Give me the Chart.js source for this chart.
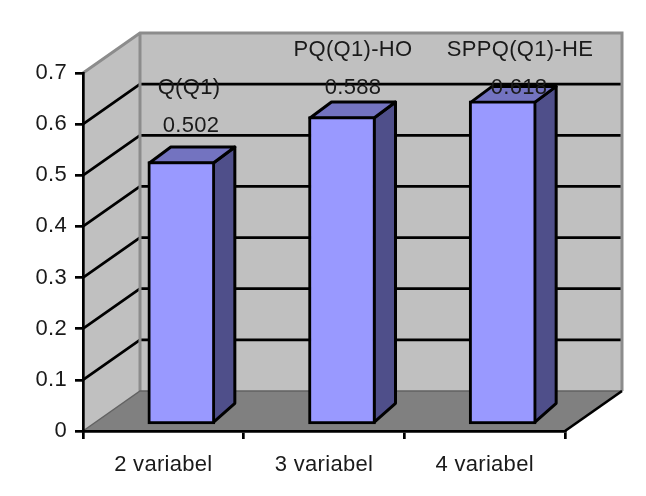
<!DOCTYPE html>
<html>
<head>
<meta charset="utf-8">
<title>Variabel</title>
<script src="https://cdn.jsdelivr.net/npm/chart.js@4"></script>
<style>
    html, body { margin: 0; padding: 0; background: #fff; }
    canvas { display: block; }
</style>
</head>
<body>
<canvas id="chart" width="646" height="496"></canvas>
<script>
const categories = ['2 variabel', '3 variabel', '4 variabel'];
const seriesValues = [0.502, 0.588, 0.618];
const seriesNames = ['Q(Q1)', 'PQ(Q1)-HO', 'SPPQ(Q1)-HE'];
const yTickLabels = ['0', '0.1', '0.2', '0.3', '0.4', '0.5', '0.6', '0.7'];

const FONT = '"Liberation Sans", Arial, sans-serif';
const FONT_SIZE = 22;
const TEXT = '#1a1a1a';
const LINE = 2.7;

// box depth of the walls, and of the columns standing on the floor
const WALL_DX = 57, WALL_DY = 40;
const BAR_DX = 21.5, BAR_TOP_DY = 16, BAR_BASE_DY = 19;
const BAR_SHIFT = 18; // columns sit back from the front edge of the floor

// where the two text rows of each column go (centre x, centre y)
const valuePos = [[191, 126], [353, 88], [519, 88]];
const namePos = [[189, 88], [353, 50], [520, 50]];

function poly(ctx, pts) {
    ctx.beginPath();
    pts.forEach((p, i) => i ? ctx.lineTo(p[0], p[1]) : ctx.moveTo(p[0], p[1]));
    ctx.closePath();
}

const wallsPlugin = {
    id: 'walls',
    beforeDraw(chart) {
        const ctx = chart.ctx, y = chart.scales.y, a = chart.chartArea;
        const y0 = y.getPixelForValue(0), yMax = y.getPixelForValue(0.7);
        const l = a.left, r = a.right;
        ctx.letterSpacing = '0.3px'; // stays on for the axis labels too
        ctx.save();

        // side wall
        poly(ctx, [[l, yMax], [l + WALL_DX, yMax - WALL_DY], [l + WALL_DX, y0 - WALL_DY], [l, y0]]);
        ctx.fillStyle = '#c0c0c0';
        ctx.fill();
        // back wall
        poly(ctx, [[l + WALL_DX, yMax - WALL_DY], [r + WALL_DX, yMax - WALL_DY], [r + WALL_DX, y0 - WALL_DY], [l + WALL_DX, y0 - WALL_DY]]);
        ctx.fill();
        // floor
        poly(ctx, [[l, y0], [r, y0], [r + WALL_DX, y0 - WALL_DY], [l + WALL_DX, y0 - WALL_DY]]);
        ctx.fillStyle = '#808080';
        ctx.fill();

        // gridlines run over the side wall and across the back wall
        ctx.strokeStyle = '#000';
        ctx.lineWidth = LINE;
        y.ticks.forEach(t => {
            if (t.value <= 0 || t.value >= 0.7) return;
            const py = y.getPixelForValue(t.value);
            ctx.beginPath();
            ctx.moveTo(l, py);
            ctx.lineTo(l + WALL_DX, py - WALL_DY);
            ctx.lineTo(r + WALL_DX, py - WALL_DY);
            ctx.stroke();
        });

        // wall edges
        ctx.strokeStyle = '#8c8c8c';
        ctx.lineWidth = 3;
        ctx.beginPath();
        ctx.moveTo(l, yMax);
        ctx.lineTo(l + WALL_DX, yMax - WALL_DY);
        ctx.lineTo(r + WALL_DX, yMax - WALL_DY);
        ctx.lineTo(r + WALL_DX, y0 - WALL_DY);
        ctx.moveTo(l + WALL_DX, yMax - WALL_DY);
        ctx.lineTo(l + WALL_DX, y0 - WALL_DY);
        ctx.stroke();
        ctx.strokeStyle = '#626262';
        ctx.lineWidth = 1.5;
        ctx.beginPath();
        ctx.moveTo(l, y0);
        ctx.lineTo(l + WALL_DX, y0 - WALL_DY);
        ctx.lineTo(r + WALL_DX, y0 - WALL_DY);
        ctx.stroke();
        // right floor edge
        ctx.strokeStyle = '#000';
        ctx.lineWidth = LINE;
        ctx.beginPath();
        ctx.moveTo(r, y0);
        ctx.lineTo(r + WALL_DX, y0 - WALL_DY);
        ctx.stroke();
        ctx.restore();
    },
    beforeDatasetsDraw(chart) {
        const ctx = chart.ctx;
        ctx.save();
        ctx.translate(BAR_SHIFT, 0);
        // top and side faces of each column, from the bar element's own box
        ctx.strokeStyle = '#000';
        ctx.lineWidth = 3;
        ctx.lineJoin = 'round';
        chart.getDatasetMeta(0).data.forEach(bar => {
            const p = bar.getProps(['x', 'y', 'base', 'width'], true);
            const x0 = p.x - p.width / 2 + 1.5, x1 = p.x + p.width / 2 - 1.5;
            const top = p.y + 1.5, base = p.base - 1.5;
            poly(ctx, [[x1, top], [x1 + BAR_DX, top - BAR_TOP_DY], [x1 + BAR_DX, base - BAR_BASE_DY], [x1, base]]);
            ctx.fillStyle = '#4f4f8a';
            ctx.fill();
            ctx.stroke();
            poly(ctx, [[x0, top], [x0 + BAR_DX, top - BAR_TOP_DY], [x1 + BAR_DX, top - BAR_TOP_DY], [x1, top]]);
            ctx.fillStyle = '#7373c0';
            ctx.fill();
            ctx.stroke();
        });
    },
    afterDatasetsDraw(chart) {
        const ctx = chart.ctx;
        ctx.restore();
        ctx.save();
        ctx.font = FONT_SIZE + 'px ' + FONT;
        ctx.fillStyle = TEXT;
        ctx.textAlign = 'center';
        ctx.textBaseline = 'middle';
        seriesValues.forEach((v, i) => {
            ctx.fillText(v.toFixed(3), valuePos[i][0], valuePos[i][1]);
            ctx.fillText(seriesNames[i], namePos[i][0], namePos[i][1]);
        });
        ctx.restore();
    }
};

new Chart(document.getElementById('chart'), {
    type: 'bar',
    plugins: [wallsPlugin],
    data: {
        labels: categories,
        datasets: [{
            data: seriesValues,
            yAxisID: 'yBar',
            backgroundColor: '#9999ff',
            borderColor: '#000',
            borderWidth: 3,
            borderSkipped: false,
            barThickness: 67
        }]
    },
    options: {
        responsive: false,
        animation: false,
        layout: { autoPadding: false, padding: { top: 73, right: 81, left: 0, bottom: 0 } },
        plugins: { legend: { display: false }, tooltip: { enabled: false } },
        scales: {
            x: {
                offset: true,
                grid: { offset: true, drawOnChartArea: false, color: '#000', lineWidth: LINE, tickLength: 8 },
                border: { color: '#000', width: LINE },
                ticks: { color: TEXT, font: { family: FONT, size: FONT_SIZE }, padding: 13, maxRotation: 0, autoSkip: false },
                afterFit: s => { s.height = 65; }
            },
            y: {
                min: 0,
                max: 0.7,
                grid: { drawOnChartArea: false, color: '#000', lineWidth: LINE, tickLength: 8 },
                border: { color: '#000', width: LINE },
                ticks: {
                    stepSize: 0.1,
                    color: TEXT,
                    font: { family: FONT, size: FONT_SIZE },
                    padding: 8,
                    callback: (v, i) => yTickLabels[i]
                },
                afterFit: s => { s.width = 83; }
            },
            yBar: {
                display: false,
                min: -0.01378,
                max: 0.6714
            }
        }
    }
});
</script>
</body>
</html>
